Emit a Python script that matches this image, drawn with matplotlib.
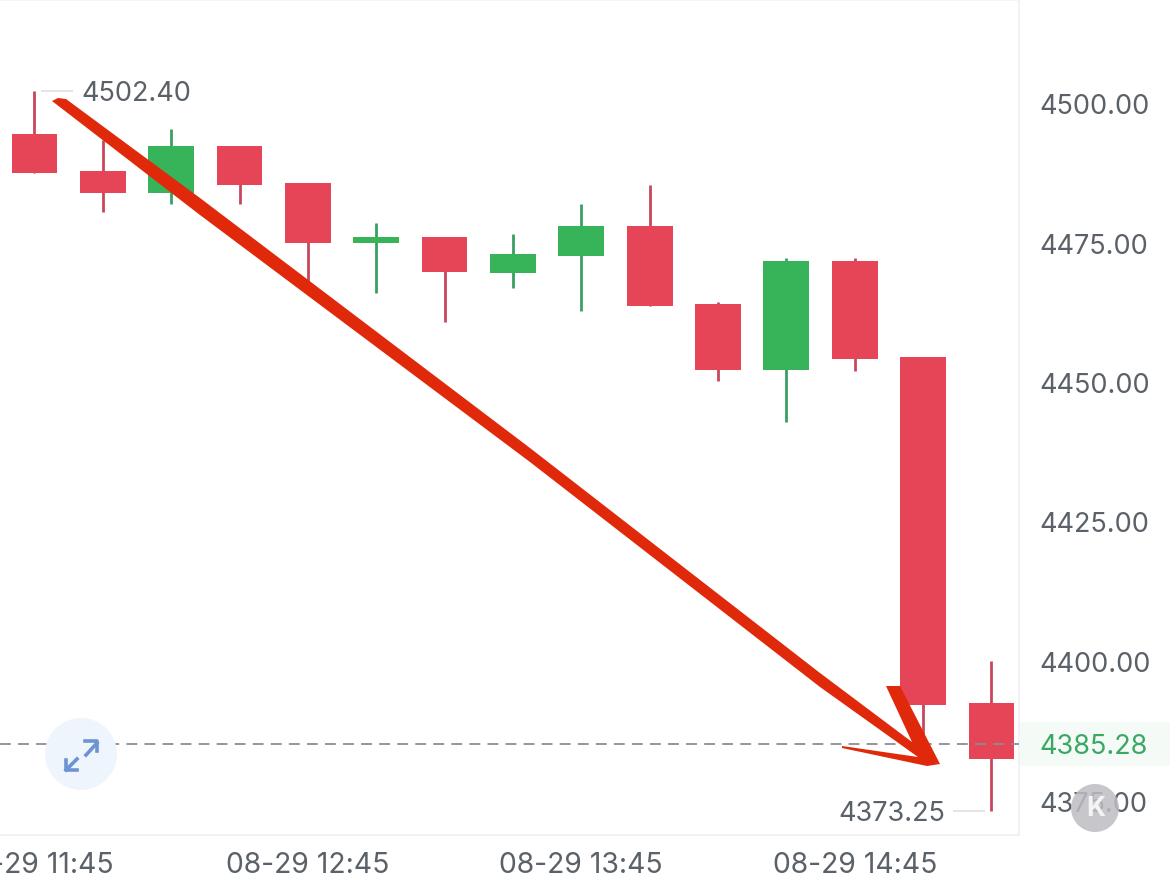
import matplotlib
matplotlib.use("Agg")
import matplotlib.pyplot as plt
from matplotlib.patches import Circle, Polygon, Rectangle
from matplotlib.transforms import Affine2D

plt.rcParams['font.family'] = ['Inter', 'DejaVu Sans']

W, H = 1170, 881

# candles, left to right
opens  = [4494.62, 4487.99, 4484.05, 4492.47, 4485.84, 4475.09, 4476.16, 4469.71,
          4472.76, 4478.14, 4464.16, 4452.33, 4471.86, 4454.66, 4392.65]
closes = [4487.63, 4484.05, 4492.47, 4485.48, 4475.09, 4476.16, 4469.89, 4473.12,
          4478.14, 4463.80, 4452.33, 4471.86, 4454.30, 4392.29, 4382.62]
highs  = [4502.40, 4493.55, 4495.52, 4492.47, 4485.84, 4478.67, 4476.16, 4476.70,
          4482.08, 4485.48, 4464.52, 4472.40, 4472.40, 4454.66, 4400.18]
lows   = [4487.63, 4480.65, 4482.08, 4482.08, 4467.03, 4466.13, 4460.93, 4467.03,
          4462.90, 4463.80, 4450.36, 4443.01, 4452.15, 4385.13, 4373.25]

price_ticks = [4500.00, 4475.00, 4450.00, 4425.00, 4400.00, 4375.00]
last_price = 4385.28
max_price, max_idx = 4502.40, 0
min_price, min_idx = 4373.25, 14
time_idx = [0, 4, 8, 12]
time_labels = ['08-29 11:45', '08-29 12:45', '08-29 13:45', '08-29 14:45']

RED = '#e54557'
RED_WICK = '#c8475c'
GREEN = '#37b359'
GREEN_WICK = '#3a9f62'
TEXT = '#5b6168'
LAST = '#3aa864'
FS = 19.5

fig = plt.figure(figsize=(W / 100, H / 100), dpi=100, facecolor='white')
ax = fig.add_axes([0, 1 - 835 / H, 1019 / W, 835 / H])

# pixels of the picture, y going down
px = Affine2D().scale(1, -1).translate(0, H)

for i in range(len(opens)):
    up = closes[i] > opens[i]
    ax.vlines(i, lows[i], highs[i], color=GREEN_WICK if up else RED_WICK, lw=2.0, zorder=2)
    ax.bar(i, abs(closes[i] - opens[i]), bottom=min(opens[i], closes[i]), width=0.67,
           color=GREEN if up else RED, zorder=3)

ax.set_xlim(-34.5 / 68.35, (1019 - 34.5) / 68.35)
ax.set_ylim(4500 - 731 / 5.58, 4500 + 104 / 5.58)

ax.yaxis.tick_right()
ax.set_yticks(price_ticks + [last_price])
ax.set_yticklabels(['%.2f' % p for p in price_ticks + [last_price]])
ax.set_xticks(time_idx)
ax.set_xticklabels(time_labels)
ax.tick_params(axis='y', length=0, pad=15, labelsize=FS, labelcolor=TEXT)
ax.tick_params(axis='x', length=0, pad=12, labelsize=20.4, labelcolor=TEXT)
ax.get_yticklabels()[-1].set_color(LAST)

ax.spines['left'].set_visible(False)
ax.spines['right'].set_color('#edf0f3')
ax.spines['top'].set_color('#f2f3f5')
ax.spines['bottom'].set_color('#eeeff1')
for s in ax.spines.values():
    s.set_linewidth(1.2)

# last price line and its band
ax.axhline(last_price, color='#8a8d93', lw=1.3, dashes=(6, 4), zorder=4)
fig.add_artist(Rectangle((1020, 722), 150, 44, transform=px, facecolor='#f4faf6',
                         edgecolor='none', zorder=-1))

# max / min labels
ax.hlines(max_price, max_idx + 0.1, max_idx + 0.57, color='#dddfe2', lw=1.2, zorder=2)
ax.text(max_idx + 0.68, max_price, '%.2f' % max_price, color=TEXT, fontsize=FS, va='center_baseline', ha='left')
ax.hlines(min_price, min_idx - 0.56, min_idx - 0.09, color='#dddfe2', lw=1.2, zorder=2)
ax.text(min_idx - 0.67, min_price, '%.2f' % min_price, color=TEXT, fontsize=FS, va='center_baseline', ha='right')

# expand button
fig.add_artist(Circle((81, 754), 36, transform=px, facecolor='#eef5fd', edgecolor='none', zorder=3))
for xs, ys in [([86, 97], [755, 743]), ([85, 97, 97], [741, 741, 751]),
               ([66, 77], [770, 759]), ([66, 66, 77], [760, 770, 770])]:
    fig.add_artist(plt.Line2D(xs, ys, transform=px, color='#6d94d2', lw=2.6, zorder=4))

# hand drawn red arrow
arrow_x = [52, 58, 66, 200, 530, 820, 912, 886, 900, 940, 927, 842, 842, 918, 820, 530, 200]
arrow_y = [101, 98, 99, 198, 448, 673, 742, 686, 686, 764, 766, 748, 746, 757, 687, 462, 215]
fig.add_artist(Polygon(list(zip(arrow_x, arrow_y)), closed=True, transform=px,
                       facecolor='#e0290b', edgecolor='none', zorder=5))

# K button, the tick label shows through it
fig.add_artist(Circle((1095, 808), 24, transform=px, facecolor='#bdbdc2', alpha=0.85,
                      edgecolor='none', zorder=6))
fig.text(1096 / W, 1 - 809 / H, 'K', color='#f4f4f6', fontsize=19, fontweight='bold',
         ha='center', va='center', zorder=7)

fig.savefig('out.png', dpi=100)
